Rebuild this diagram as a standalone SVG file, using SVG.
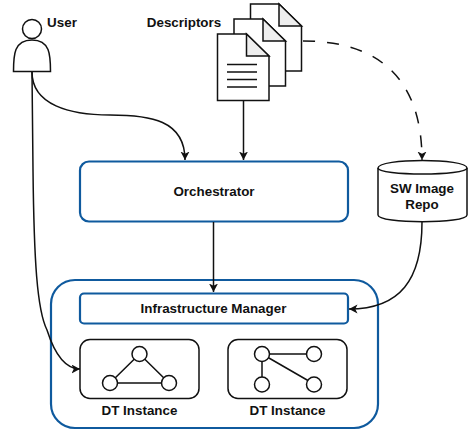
<svg xmlns="http://www.w3.org/2000/svg" width="468" height="432" viewBox="0 0 468 432">
<style>
text{font-family:"Liberation Sans",Arial,sans-serif;font-weight:bold;font-size:13.4px;fill:#111;text-anchor:middle}
.k{fill:#fff;stroke:#111;stroke-width:1.5}
.b{fill:#fff;stroke:#0f5a9e;stroke-width:2.2}
.c{fill:none;stroke:#111;stroke-width:1.5}
.f{fill:#eee;stroke:#111;stroke-width:1.5}
</style>
<defs><marker id="a" markerUnits="userSpaceOnUse" markerWidth="10" markerHeight="10" refX="8.500" refY="4.500" orient="auto"><path d="M0 0L8.500 4.500L0 9L2.200 4.500Z" fill="#111"/></marker></defs>
<g id="infra-box"><rect class="b" x="51" y="280" width="327" height="148" rx="24"/></g>
<g id="user"><circle class="k" cx="32" cy="29" r="9.500"/><path class="k" d="M13.500 71.500C13.500 55 14 40 32 40C50 40 50.500 55 50.500 71.500Z"/><text x="62" y="27">User</text></g>
<g id="descriptors"><text x="184" y="27">Descriptors</text>
<path class="k" d="M250.500 4H279L301.500 26V71H250.500Z"/><path class="f" d="M279 4V26H301.500Z"/>
<path class="k" d="M234 19H263L285.500 41V86H234Z"/><path class="f" d="M263 19V41H285.500Z"/>
<path class="k" d="M217.500 34H246.500L269 56V100.500H217.500Z"/><path class="f" d="M246.500 34V56H269Z"/>
<path class="c" d="M227 64.500H257M227 72H257M227 79.500H257M227 87H257"/></g>
<g id="orchestrator"><rect class="b" x="80" y="161.500" width="268" height="60" rx="9"/><text x="214" y="196">Orchestrator</text></g>
<g id="repo"><path class="k" d="M378 168C378 158 467 158 467 168V215C467 224 378 224 378 215Z"/><path class="c" d="M378 168C378 176 467 176 467 168"/><text x="422" y="193">SW Image</text><text x="422" y="209">Repo</text></g>
<g id="manager"><rect class="b" x="80" y="293.500" width="268" height="30" rx="4"/><text x="213.500" y="313">Infrastructure Manager</text></g>
<g id="dt1"><rect class="k" x="80" y="339.500" width="119" height="59" rx="10"/><path class="c" d="M139.500 354L110 383H169L139.500 354"/><circle class="k" cx="139.500" cy="354" r="7.500"/><circle class="k" cx="110" cy="383" r="7.500"/><circle class="k" cx="169" cy="383" r="7.500"/><text x="139.500" y="415">DT Instance</text></g>
<g id="dt2"><rect class="k" x="228" y="339.500" width="119" height="59" rx="10"/><path class="c" d="M262 354H314M262 354V385M262 354L314 384"/><circle class="k" cx="262" cy="354" r="7.500"/><circle class="k" cx="314" cy="354" r="7.500"/><circle class="k" cx="262" cy="384.500" r="7.500"/><circle class="k" cx="314" cy="384.500" r="7.500"/><text x="287.500" y="415">DT Instance</text></g>
<g id="connectors">
<path class="c" marker-end="url(#a)" d="M32 72C32 105 70 115 110 115C150 115 185 120 185 160"/>
<path class="c" marker-end="url(#a)" d="M32 72L33 170C34 260 37 310 47 330C54 352 65 369 80 369"/>
<path class="c" marker-end="url(#a)" d="M243.500 101V160"/>
<path class="c" marker-end="url(#a)" d="M213.500 222V292"/>
<path class="c" stroke-dasharray="12 12" marker-end="url(#a)" d="M303 41C385 41 422 85 422 160"/>
<path class="c" marker-end="url(#a)" d="M422 222C422 280 400 309 349 309"/>
</g>
</svg>
